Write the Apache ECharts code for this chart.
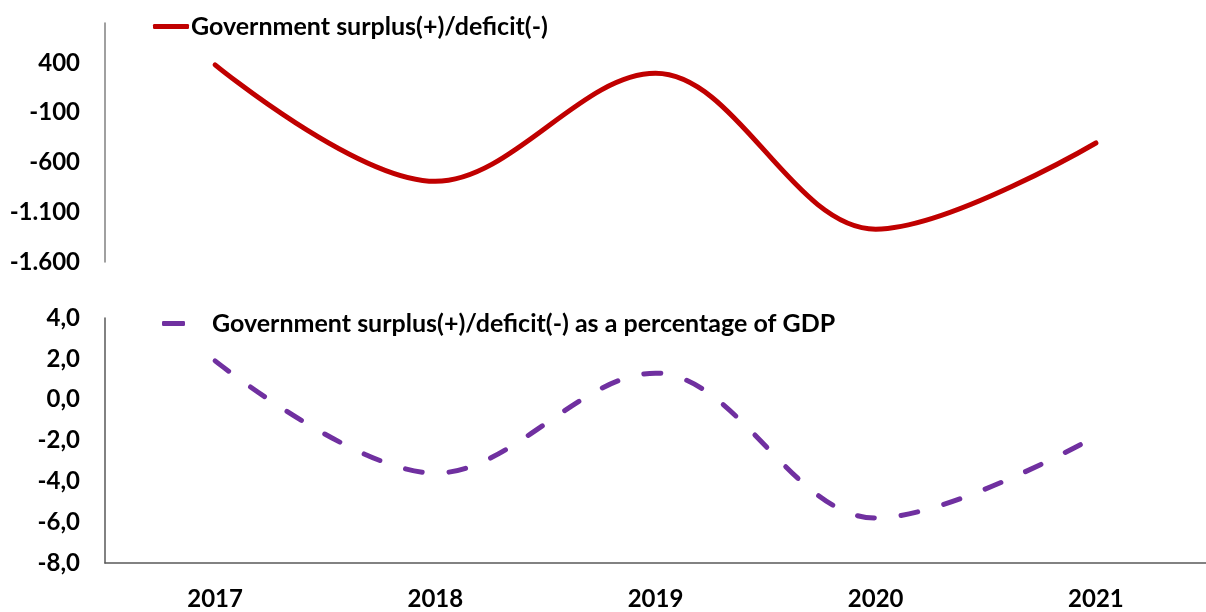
<!DOCTYPE html>
<html>
<head>
<meta charset="utf-8">
<script src="https://cdn.jsdelivr.net/npm/echarts@6/dist/echarts.min.js"></script>
<style>
html,body{margin:0;padding:0;background:#fff;}
#chart{width:1206px;height:612px;}
</style>
</head>
<body>
<div id="chart"></div>
<script>
const years = ['2017', '2018', '2019', '2020', '2021'];
const surplus = [380, -790, 295, -1270, -405];
const surplusPct = [1.9, -3.6, 1.3, -5.8, -1.8];
const topTicks = [-1600, -1100, -600, -100, 400];
const seriesNames = ['Government surplus(+)/deficit(-)', 'Government surplus(+)/deficit(-) as a percentage of GDP'];

const FONT = 'Lato';
const labelStyle = {color: '#000', fontFamily: FONT, fontWeight: 'bold', fontSize: 24};
const legendText = {color: '#000', fontFamily: FONT, fontWeight: 'bold', fontSize: 25};

function fmtThousands(v) {
  const s = Math.abs(v).toString().replace(/\B(?=(\d{3})+(?!\d))/g, '.');
  return (v < 0 ? '-' : '') + s;
}

const chart = echarts.init(document.getElementById('chart'));
chart.setOption({
  animation: false,
  backgroundColor: '#fff',
  grid: [
    {left: 105, right: 0, top: 23, height: 239},
    {left: 105, right: 0, top: 318, height: 245}
  ],
  legend: [
    {
      data: [{name: seriesNames[0], icon: 'roundRect', itemStyle: {color: '#C00000'}}],
      left: 148, top: 9,
      itemWidth: 36, itemHeight: 5, itemGap: 0,
      textStyle: Object.assign({}, legendText, {padding: [0, 0, 0, -3]})
    },
    {
      data: [{name: seriesNames[1], icon: 'roundRect', itemStyle: {color: '#7030A0'}}],
      left: 157, top: 306,
      itemWidth: 23, itemHeight: 5,
      textStyle: Object.assign({}, legendText, {padding: [0, 0, 0, 22]})
    }
  ],
  xAxis: [
    {type: 'category', gridIndex: 0, data: years, show: false},
    {
      type: 'category', gridIndex: 1, data: years,
      axisLine: {show: true, onZero: false, lineStyle: {color: '#595959', width: 1.5}},
      axisTick: {show: false},
      axisLabel: Object.assign({}, labelStyle, {margin: 24})
    }
  ],
  yAxis: [
    {
      type: 'value', gridIndex: 0, min: -1600, max: 800, interval: 500,
      axisLine: {show: true, lineStyle: {color: '#808080', width: 1.5}},
      axisTick: {show: false},
      splitLine: {show: false},
      axisLabel: Object.assign({}, labelStyle, {
        margin: 25, customValues: topTicks, formatter: fmtThousands
      })
    },
    {
      type: 'value', gridIndex: 1, min: -8, max: 4, interval: 2,
      axisLine: {show: true, lineStyle: {color: '#595959', width: 1.5}},
      axisTick: {show: false},
      splitLine: {show: false},
      axisLabel: Object.assign({}, labelStyle, {
        margin: 25, formatter: v => v.toFixed(1).replace('.', ',')
      })
    }
  ],
  series: [
    {
      name: seriesNames[0], type: 'line', xAxisIndex: 0, yAxisIndex: 0,
      data: surplus, smooth: 0.35, symbol: 'none',
      lineStyle: {color: '#C00000', width: 5, cap: 'round'},
      itemStyle: {color: '#C00000'}
    },
    {
      name: seriesNames[1], type: 'line', xAxisIndex: 1, yAxisIndex: 1,
      data: surplusPct, smooth: 0.35, symbol: 'none',
      lineStyle: {color: '#7030A0', width: 5, type: [17, 27], cap: 'round'},
      itemStyle: {color: '#7030A0'}
    }
  ]
});
</script>
</body>
</html>
